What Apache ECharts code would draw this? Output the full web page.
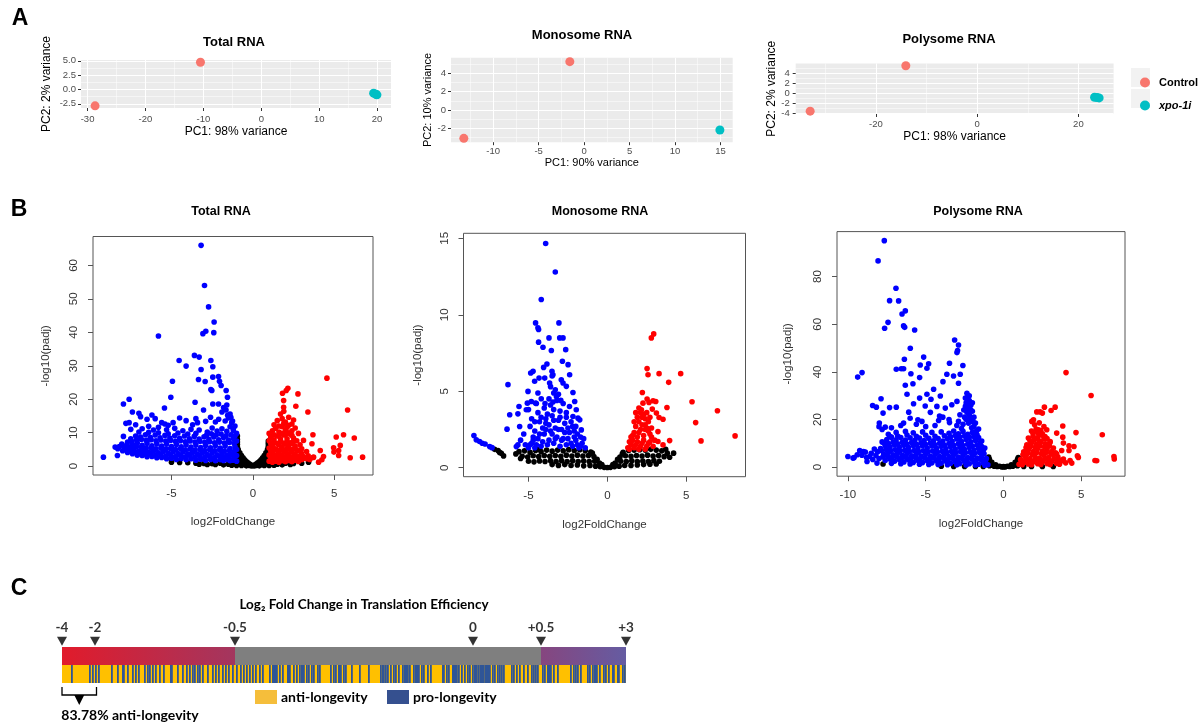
<!DOCTYPE html>
<html>
<head>
<meta charset="utf-8">
<script src="https://cdn.jsdelivr.net/npm/echarts@6/dist/echarts.min.js"></script>
<style>
html,body{margin:0;padding:0;background:#fff;}
#main{width:1198px;height:726px;}
</style>
</head>
<body>
<div id="main"></div>
<script>
var FONT = '"Liberation Sans", Arial, sans-serif';
var FONTC = 'Lato, "Open Sans", sans-serif';

// ---- panel A : PCA ----
var pcaTotalCtrl = [[-10.5, 4.75], [-28.7, -2.85]];
var pcaTotalXpo = [[19.4, -0.64], [19.8, -0.85], [19.97, -0.93]];
var pcaMonoCtrl = [[-1.57, 5.27], [-13.23, -3.09]];
var pcaMonoXpo = [[14.94, -2.18]];
var pcaPolyCtrl = [[-14.1, 5.45], [-33.0, -3.54]];
var pcaPolyXpo = [[23.2, -0.79], [23.7, -0.85], [24.1, -0.92]];

// ---- panel B : volcano ----
var totalNs = [[0,0.1],[-0.1,0.3],[0.1,0.3],[-0.2,0.6],[0.2,0.6],[-0.3,1.0],[0.3,1.0],[-0.4,1.4],[0.4,1.4],[-0.5,1.9],[0.5,1.9],
  [-0.6,2.5],[0.6,2.5],[-0.7,3.2],[0.7,3.2],[-0.8,4.0],[0.8,4.0],[-0.9,5.0],[0.9,5.0],[-0.95,6.5],[0.95,6.0],[-0.95,8.0],[0.95,7.5],[-0.95,9.0],
  [-0.2,0.2],[0.2,0.2],[-0.4,0.4],[0.4,0.4],[-0.6,0.6],[0.6,0.6],[-0.8,0.8],[0.8,0.8],[-0.5,1.2],[0.5,1.2],[-0.7,1.8],[0.7,1.8],
  [-0.85,2.8],[0.85,2.8],[-0.9,3.5],[0.9,3.5],[-0.8,2.2],[0.8,2.2],[-0.6,1.0],[0.6,1.0],
  [-1.2,0.8],[-1.5,0.6],[-2.0,0.9],[-2.5,0.7],[-3.0,0.8],[-3.5,0.9],[-4.0,1.0],[-4.5,1.1],[-5.0,1.2],[-1.3,0.3],[-1.8,0.4],[-2.3,0.5],[-2.8,0.5],[-3.3,0.6],
  [1.2,0.8],[1.5,0.6],[2.0,0.9],[2.5,0.8],[3.0,0.9],[1.3,0.3],[1.8,0.4],[2.3,0.5],[3.42,1.2]];
var totalNsFill = [[-0.1,0.1],[0.1,0.1],[-0.3,0.3],[0.3,0.3],[-0.5,0.5],[0.5,0.5],[-0.7,0.7],[0.7,0.7],[-0.9,0.9],[0.9,0.9],[-0.9,1.6],[0.9,1.6],
  [-0.75,1.3],[0.75,1.3],[-0.95,2.4],[0.95,2.4],[-0.9,4.2],[0.9,4.3],[-0.95,5.7],[0.95,5.5],[-0.95,7.2],[0.95,6.8],[-0.6,1.7],[0.6,1.7],
  [-0.85,3.3],[0.85,3.3],[-0.4,0.9],[0.4,0.9],[-0.4,0.1],[0.4,0.1],[-0.7,0.2],[0.7,0.2],[-1.0,0.2],[1.0,0.2]];
var totalDown = [[-3.18,66.0],[-2.97,54.0],[-2.72,47.6],[-2.38,43.1],[-2.40,39.9],[-2.89,40.3],[-3.07,39.6],[-5.80,38.9],[-3.59,33.1],[-3.30,32.6],
  [-4.53,31.6],[-2.58,31.6],[-4.10,29.9],[-2.46,29.7],[-3.18,28.9],[-2.11,26.8],[-3.34,25.9],[-2.46,26.6],[-2.93,25.3],[-4.94,25.4],[-2.05,25.4],
  [-2.58,22.9],[-2.52,22.6],[-1.95,24.1],[-5.04,20.6],[-7.60,20.0],[-7.95,18.6],[-3.55,19.1],[-2.46,18.6],[-2.11,18.6],[-1.64,22.6],[-1.56,20.6],
  [-5.43,17.4],[-3.03,16.8],[-1.60,18.3],[-3.50,14.2],[-7.95,8.9],[-9.18,2.7],[-8.32,3.2],[-8.46,5.7],
  [-1.0,1.5],[-1.2,1.8],[-1.4,1.6],[-1.6,2.0],[-1.8,1.7],[-2.0,1.9],[-2.3,1.6],[-2.6,2.0],[-2.9,1.7],[-3.2,2.1],[-3.5,1.8],[-3.8,2.2],[-4.1,1.9],[-4.4,2.3],
  [-4.7,2.0],[-5.0,2.4],[-5.3,2.2],[-5.6,2.6],[-5.9,2.5],[-6.2,2.9],[-6.5,2.8],[-6.8,3.2],[-7.1,3.3],[-7.4,3.7],[-7.7,4.1],[-8.0,4.6],[-8.3,5.2],
  [-1.0,3.2],[-1.3,3.6],[-1.6,3.3],[-1.9,3.8],[-2.2,3.4],[-2.5,3.9],[-2.8,3.5],[-3.1,4.0],[-3.4,3.6],[-3.7,4.1],[-4.0,3.7],[-4.3,4.2],[-4.6,3.8],[-4.9,4.3],
  [-5.2,3.9],[-5.5,4.4],[-5.8,4.0],[-6.1,4.5],[-6.4,4.2],[-6.7,4.7],[-7.0,4.5],[-7.3,5.0],[-7.6,5.2],[-7.9,5.6],[-8.2,5.9],
  [-1.0,5.0],[-1.1,5.8],[-1.4,5.3],[-1.7,6.0],[-2.0,5.4],[-2.3,6.1],[-2.6,5.5],[-2.9,6.2],[-3.2,5.6],[-3.5,6.3],[-3.8,5.7],[-4.1,6.4],[-4.4,5.8],[-4.7,6.5],
  [-5.0,5.9],[-5.3,6.6],[-5.6,6.0],[-5.9,6.7],[-6.2,6.1],[-6.5,6.8],[-6.8,6.2],[-7.1,6.9],[-7.4,6.5],[-7.7,7.2],
  [-1.0,7.5],[-1.2,8.3],[-1.5,7.8],[-1.8,8.6],[-2.1,7.9],[-2.4,8.7],[-2.7,8.0],[-3.0,8.8],[-3.3,8.1],[-3.6,8.9],[-3.9,8.2],[-4.2,9.0],[-4.5,8.3],[-4.8,9.1],
  [-5.1,8.4],[-5.4,9.2],[-5.7,8.5],[-6.0,9.3],[-6.3,8.6],[-6.6,9.4],[-6.9,8.7],[-7.2,9.0],[-7.5,8.2],
  [-1.0,9.8],[-1.2,10.6],[-1.4,11.8],[-1.6,10.4],[-1.9,11.2],[-2.2,10.5],[-2.5,11.4],[-2.8,10.2],[-3.3,10.8],[-3.8,11.0],[-4.3,10.6],[-4.8,11.3],[-5.3,10.9],
  [-5.8,11.6],[-6.1,10.8],[-6.4,11.9],[-6.8,11.2],[-7.2,12.4],[-7.5,11.0],
  [-1.3,13.0],[-1.5,14.4],[-1.4,15.6],[-1.7,13.5],[-1.9,16.2],[-2.1,14.0],[-2.3,13.2],[-2.6,14.6],[-2.9,13.4],[-3.4,13.0],[-4.1,13.6],[-4.5,14.4],[-4.9,13.0],
  [-5.4,12.6],[-5.6,13.0],[-6.0,14.2],[-6.2,15.3],[-6.5,14.0],[-6.9,14.8],[-7.0,15.8],[-7.4,16.2],[-7.6,13.0],[-7.8,12.8],[-5.2,12.2],[-3.7,12.4]];
var totalDownFill = [[-1.15,2.6],[-1.45,2.8],[-1.75,2.6],[-2.05,2.9],[-2.35,2.6],[-2.65,2.9],[-2.95,2.7],[-3.25,3.0],[-3.55,2.7],[-3.85,3.1],[-4.15,2.8],
  [-4.45,3.2],[-4.75,2.9],[-5.05,3.3],[-5.35,3.0],[-5.65,3.4],[-5.95,3.3],[-6.25,3.6],[-6.55,3.5],[-6.85,3.9],[-7.15,4.0],[-7.45,4.3],[-7.75,4.8],
  [-1.15,4.4],[-1.45,4.7],[-1.75,4.5],[-2.05,4.8],[-2.35,4.6],[-2.65,4.9],[-2.95,4.7],[-3.25,5.0],[-3.55,4.8],[-3.85,5.1],[-4.15,4.9],[-4.45,5.2],
  [-4.75,5.0],[-5.05,5.3],[-5.35,5.1],[-5.65,5.4],[-5.95,5.2],[-6.25,5.5],[-6.55,5.4],[-6.85,5.7],[-7.15,5.8],[-7.45,6.0],[-7.75,6.3],[-8.05,6.6],
  [-1.15,6.8],[-1.45,7.1],[-1.75,6.9],[-2.05,7.2],[-2.35,7.0],[-2.65,7.3],[-2.95,7.1],[-3.25,7.4],[-3.55,7.2],[-3.85,7.5],[-4.15,7.3],[-4.45,7.6],
  [-4.75,7.4],[-5.05,7.7],[-5.35,7.5],[-5.65,7.8],[-5.95,7.6],[-6.25,7.9],[-6.55,7.7],[-6.85,8.0],[-7.15,7.8],[-7.45,7.4],
  [-1.1,9.0],[-1.35,9.4],[-1.65,9.1],[-1.95,9.6],[-2.25,9.3],[-2.55,9.7],[-2.85,9.2],[-3.5,9.8],[-4.0,9.6],[-4.6,9.9],[-5.2,9.7],[-5.8,10.0],[-6.4,10.1],
  [-7.0,10.2],[-1.1,12.0],[-1.25,13.5],[-1.35,14.6],[-1.55,15.2],[-1.65,16.8],[-1.8,17.5],[-1.2,11.2]];
var totalUp = [[4.55,26.3],[2.15,23.3],[2.05,22.6],[2.77,21.6],[1.82,21.8],[5.82,16.8],[3.38,16.2],[2.64,17.9],[1.89,19.6],[1.89,17.6],[3.69,9.4],[5.12,8.7],
  [5.57,9.4],[6.23,8.4],[5.37,6.2],[4.96,5.5],[5.27,4.7],[4.98,4.2],[5.27,3.2],[5.98,2.5],[6.74,2.7],[4.14,4.7],[4.34,2.9],[4.24,1.9],[4.04,1.2],[3.73,2.7],
  [3.11,7.7],[3.63,6.7],[3.32,2.2],[2.97,3.7],
  [1.0,1.5],[1.2,1.8],[1.4,1.5],[1.6,2.0],[1.8,1.6],[2.0,2.1],[2.2,1.7],[2.4,2.2],[2.6,1.8],[2.8,2.3],[3.0,1.9],[3.2,2.4],[3.5,2.0],[3.7,2.6],
  [1.0,3.3],[1.2,3.8],[1.4,3.2],[1.6,4.0],[1.8,3.4],[2.0,4.2],[2.2,3.5],[2.4,4.4],[2.6,3.6],[2.8,4.6],[3.0,3.8],[3.3,4.4],
  [1.0,5.4],[1.2,6.0],[1.4,5.2],[1.6,6.4],[1.8,5.6],[2.0,6.6],[2.2,5.8],[2.4,6.8],[2.6,6.0],[2.9,6.4],
  [1.0,7.6],[1.1,8.6],[1.3,7.9],[1.5,9.0],[1.7,8.1],[1.9,9.3],[2.1,8.2],[2.3,9.6],[2.5,8.4],[2.7,7.6],
  [1.0,9.8],[1.2,10.6],[1.4,11.3],[1.6,10.2],[1.8,11.8],[2.0,10.8],[2.2,12.2],[2.4,10.6],[2.6,11.4],[2.8,9.8],
  [1.5,13.6],[1.8,14.2],[2.0,13.2],[2.2,14.6],[1.7,15.6],[2.5,13.8],[1.9,16.4]];
var totalUpFill = [[1.1,2.6],[1.3,2.8],[1.5,2.6],[1.7,2.9],[1.9,2.6],[2.1,3.0],[2.3,2.7],[2.5,3.0],[2.7,2.8],[2.9,3.0],[3.1,2.9],[3.4,3.1],
  [1.1,4.5],[1.3,4.8],[1.5,4.6],[1.7,5.0],[1.9,4.7],[2.1,5.1],[2.3,4.8],[2.5,5.2],[2.7,4.9],[3.0,5.2],
  [1.1,6.8],[1.3,7.0],[1.5,6.8],[1.7,7.2],[1.9,6.9],[2.1,7.3],[2.3,7.0],[2.5,7.4],
  [1.1,9.2],[1.3,9.4],[1.6,9.1],[1.8,9.8],[2.0,9.5],[2.2,10.0],[2.4,9.2],
  [1.3,12.4],[1.6,12.0],[1.9,12.8],[2.1,11.6],[2.4,12.6],[1.2,1.2],[1.6,1.2],[2.0,1.3],[2.4,1.3],[2.8,1.4]];

var monoNs = [[-5.6,1.05],[-5.25,1.1],[-4.9,1.0],[-4.55,1.12],[-4.2,1.05],[-3.85,1.15],[-3.5,1.08],[-3.15,1.15],[-2.8,1.1],[-2.45,1.18],[-2.1,1.12],[-1.75,1.18],
  [-1.4,1.1],[-1.05,1.02],[1.0,1.0],[1.35,1.12],[1.7,1.15],[2.05,1.18],[2.4,1.15],[2.75,1.2],[3.1,1.15],[3.45,1.1],[3.8,0.95],
  [-5.4,0.75],[-5.05,0.7],[-4.7,0.78],[-4.35,0.72],[-4.0,0.8],[-3.65,0.74],[-3.3,0.8],[-2.95,0.75],[-2.6,0.82],[-2.25,0.76],[-1.9,0.82],[-1.55,0.76],
  [-1.2,0.8],[-0.85,0.72],[0.8,0.7],[1.15,0.78],[1.5,0.74],[1.85,0.8],[2.2,0.76],[2.55,0.82],[2.9,0.76],[3.25,0.8],[3.6,0.72],[3.95,0.68],
  [-5.0,0.42],[-4.65,0.38],[-4.3,0.44],[-3.95,0.4],[-3.6,0.45],[-3.25,0.4],[-2.9,0.46],[-2.55,0.4],[-2.2,0.45],[-1.85,0.4],[-1.5,0.44],[-1.15,0.4],
  [-0.8,0.42],[-0.5,0.3],[0.5,0.3],[0.85,0.42],[1.2,0.4],[1.55,0.45],[1.9,0.4],[2.25,0.44],[2.6,0.4],[2.95,0.46],[3.3,0.42],
  [-3.5,0.2],[-3.1,0.15],[-2.7,0.2],[-2.3,0.14],[-1.9,0.18],[-1.5,0.12],[-1.1,0.15],[-0.75,0.1],[-0.45,0.06],[-0.2,0.02],[0,0.01],[0.2,0.02],[0.45,0.06],
  [0.75,0.1],[1.1,0.14],[1.5,0.15],[1.9,0.18],[2.3,0.2],[2.7,0.22],[3.1,0.24],
  [-0.65,0.55],[0.65,0.55],[-0.35,0.2],[0.35,0.2],[-0.95,0.95],[0.95,0.9],
  [-7.15,1.2],[-6.93,1.12],[-6.83,1.0],[-6.72,0.94],[-6.58,0.77],[-5.8,0.9],[-5.5,0.6],[-4.4,1.2],[4.2,0.95],[3.7,1.2]];
var monoDown = [[-3.91,14.66],[-3.30,12.80],[-4.19,11.0],[-4.55,9.47],[-4.40,9.15],[-4.36,9.04],[-3.07,9.47],[-3.70,8.49],[-3.02,8.49],[-2.81,8.49],
  [-4.36,8.21],[-4.08,7.88],[-3.55,7.66],[-2.64,7.72],[-2.85,6.96],[-2.49,6.74],[-3.83,6.78],[-4.04,6.56],[-4.86,6.19],[-4.71,6.30],[-3.51,6.30],
  [-3.45,6.08],[-2.39,6.08],[-6.30,5.43],[-5.03,4.99],[-4.33,5.86],[-4.61,5.65],[-3.97,5.86],[-3.66,5.54],[-2.92,5.75],[-2.81,5.54],[-2.18,4.92],
  [-3.40,4.88],[-4.40,4.88],[-5.60,4.00],[-6.19,3.46],[-6.36,2.52],[-5.67,3.52],[-5.56,2.69],[-5.77,1.38],[-5.14,3.79],[-5.07,4.22],[-4.82,4.33],
  [-4.55,4.22],[-4.19,4.51],[-3.23,4.66],[-2.60,5.32],[-2.07,4.33],[-1.97,3.79],[-1.86,3.24],[-1.75,3.13],[-1.65,2.47],[-2.18,3.35],[-5.67,1.49],
  [-8.46,2.10],[-8.31,1.82],[-8.10,1.71],[-7.93,1.60],[-7.75,1.55],[-7.46,1.38],[-7.31,1.31],
  [-5.0,1.3],[-4.8,1.6],[-4.6,1.3],[-4.4,1.9],[-4.2,1.4],[-4.0,2.2],[-3.8,1.5],[-3.6,2.4],[-3.4,1.6],[-3.2,2.0],[-3.0,1.4],[-2.8,1.9],[-2.6,1.5],
  [-2.4,2.3],[-2.2,1.4],[-2.0,1.8],[-1.8,1.3],[-1.6,1.6],[-1.4,1.3],
  [-4.9,2.7],[-4.6,2.4],[-4.3,3.0],[-4.1,2.6],[-3.9,3.2],[-3.7,2.8],[-3.5,3.4],[-3.3,2.6],[-3.1,3.1],[-2.9,2.5],[-2.7,2.9],[-2.5,2.6],[-2.3,3.0],
  [-2.1,2.4],[-1.9,2.2],
  [-4.4,3.6],[-4.0,3.9],[-3.8,3.5],[-3.6,4.1],[-3.4,3.8],[-3.2,4.4],[-3.0,3.7],[-2.8,4.2],[-2.6,3.6],[-2.4,4.0],[-3.7,4.5],[-3.3,5.1],[-3.1,4.8],
  [-3.5,6.0],[-3.6,5.3],[-5.3,2.2],[-5.5,1.8],[-5.2,1.5],[-4.7,2.0],[-1.5,1.9],[-1.7,2.0],[-2.0,2.7],[-4.5,4.2],[-4.8,3.2],[-5.0,3.8]];
var monoDownFill = [[-4.9,1.5],[-4.7,1.8],[-4.5,1.5],[-4.3,2.2],[-4.1,1.7],[-3.9,2.5],[-3.7,1.8],[-3.5,2.2],[-3.3,1.9],[-3.1,2.5],[-2.9,1.8],[-2.7,2.3],
  [-2.5,1.9],[-2.3,1.6],[-2.1,2.0],[-1.9,1.5],[-1.7,1.4],[-4.2,3.3],[-3.9,2.9],[-3.4,3.1],[-3.0,3.3],[-2.6,3.3],[-2.2,2.7],[-4.6,3.0],[-3.95,4.2],
  [-3.45,4.3],[-2.95,4.4]];
var monoUp = [[2.94,8.75],[2.79,8.49],[2.52,6.48],[2.58,6.08],[3.28,6.15],[4.65,6.15],[3.89,5.58],[5.37,4.31],[6.98,3.72],[5.60,2.95],[5.94,1.75],
  [8.10,2.08],[3.78,3.94],[3.95,1.77],[3.53,1.49],[3.21,1.71],[3.21,2.36],[3.53,3.17],[3.28,3.28],[3.11,3.57],[2.90,4.38],[3.07,4.33],[2.64,4.27],
  [2.52,4.49],[2.22,4.92],[2.26,4.22],[2.16,3.79],[2.85,3.83],
  [1.3,1.3],[1.5,1.5],[1.7,1.3],[1.9,1.7],[2.1,1.4],[2.3,1.8],[2.5,1.4],[2.7,1.7],[2.9,1.4],[1.5,2.0],[1.7,2.3],[1.9,2.0],[2.1,2.5],[2.3,2.1],
  [2.5,2.6],[2.7,2.2],[1.8,2.7],[2.0,3.0],[2.2,2.8],[2.4,3.2],[1.9,3.3],[2.1,3.6],[1.7,3.0],[2.6,3.0],[2.3,3.5],[2.8,2.6],[1.6,1.8],[2.0,1.2],[2.4,1.2]];
var monoUpFill = [[1.4,1.7],[1.6,2.1],[1.8,1.5],[2.0,2.3],[2.2,1.6],[2.4,2.5],[2.6,1.6],[2.8,2.0],[1.8,3.6],[2.0,3.9],[2.2,3.3],[2.4,2.8],[2.6,2.4],
  [1.4,1.2],[3.0,1.8],[2.5,3.6],[2.7,3.3]];

var polyNs = [[0,0.2],[-0.25,0.4],[0.25,0.4],[-0.5,1.0],[0.5,1.0],[-0.75,2.0],[0.75,2.0],[-0.9,3.2],[0.9,3.2],[-0.6,0.4],[0.6,0.4],[-0.85,1.0],[0.85,1.0],
  [-0.95,4.2],[0.95,4.0],[-7.74,1.3],[-1.3,0.3],[-1.8,0.3],[-2.5,0.3],[-3.2,0.3],[-4.0,0.4],[1.3,0.3],[1.8,0.3],[2.5,0.3],[3.2,0.3],
  [-0.4,0.3],[0.4,0.3],[-0.7,0.8],[0.7,0.8],[-0.8,1.5],[0.8,1.5],[-0.9,2.4],[0.9,2.4],[-0.95,3.6],[0.95,3.4],[-0.1,0.1],[0.1,0.1],[-0.9,0.6],[0.9,0.6]];
var polyDown = [[-7.66,95.1],[-8.06,86.6],[-6.91,75.1],[-7.32,69.9],[-6.74,69.8],[-6.31,65.6],[-6.52,64.3],[-7.42,60.8],[-7.64,58.3],[-6.42,59.3],
  [-6.35,58.7],[-5.71,57.6],[-3.14,53.4],[-2.89,51.3],[-2.95,49.0],[-2.99,48.1],[-5.99,49.9],[-5.13,46.2],[-6.37,45.3],[-3.47,43.6],[-4.81,43.4],
  [-5.35,42.9],[-4.92,41.5],[-2.61,42.7],[-9.37,37.8],[-9.09,39.7],[-6.89,41.1],[-6.57,41.3],[-6.42,41.3],[-5.95,39.2],[-3.64,39.0],[-3.21,38.3],
  [-5.39,37.6],[-2.78,39.0],[-3.89,35.9],[-2.89,35.2],[-5.82,35.0],[-6.31,34.4],[-4.49,32.7],[-6.20,30.6],[-4.92,30.6],[-4.06,29.9],[-5.39,29.0],
  [-7.87,28.7],[-4.66,28.5],[-2.99,27.6],[-5.78,26.6],[-8.41,25.9],[-8.17,25.2],[-5.03,25.7],[-4.28,25.5],[-3.74,24.8],[-3.32,26.2],[-6.89,25.2],
  [-7.32,25.0],[-7.74,22.7],[-6.09,23.1],[-4.11,21.5],[-5.50,19.9],[-5.24,19.2],[-6.42,18.5],[-7.98,18.5],[-4.17,19.6],[-3.47,18.7],[-2.89,19.2],
  [-1.0,1.0],[-1.3,1.8],[-1.6,1.2],[-1.9,2.2],[-2.2,1.4],[-2.5,2.4],[-2.8,1.5],[-3.1,2.3],[-3.4,1.6],[-3.7,2.5],[-4.0,1.7],[-4.3,2.6],[-4.6,1.8],
  [-4.9,2.7],[-5.2,1.9],[-5.5,2.8],[-5.8,2.0],[-6.1,3.0],[-6.4,2.2],[-6.7,3.2],[-7.0,2.5],[-7.3,3.4],[-7.6,2.8],[-8.0,3.6],[-8.4,3.2],[-8.8,4.0],
  [-1.1,3.6],[-1.4,4.4],[-1.7,3.8],[-2.0,4.8],[-2.3,4.0],[-2.6,5.0],[-2.9,4.2],[-3.2,5.2],[-3.5,4.4],[-3.8,5.3],[-4.1,4.5],[-4.4,5.4],[-4.7,4.6],
  [-5.0,5.5],[-5.3,4.7],[-5.6,5.6],[-5.9,4.8],[-6.2,5.7],[-6.5,5.0],[-6.8,5.9],[-7.1,5.2],[-7.4,6.1],[-7.7,5.5],[-8.1,6.4],[-8.5,5.8],[-9.0,6.6],[-9.4,5.2],
  [-1.3,7.0],[-1.6,7.8],[-1.9,7.2],[-2.2,8.2],[-2.5,7.4],[-2.8,8.4],[-3.1,7.6],[-3.4,8.6],[-3.7,7.8],[-4.0,8.8],[-4.3,7.9],[-4.6,8.9],[-4.9,8.0],
  [-5.2,9.0],[-5.5,8.1],[-5.8,9.1],[-6.1,8.2],[-6.4,9.2],[-6.7,8.3],[-7.0,9.3],[-7.3,8.4],[-7.6,9.0],[-7.9,7.8],
  [-1.5,10.4],[-1.8,11.2],[-2.1,10.6],[-2.4,11.6],[-2.7,10.8],[-3.0,11.8],[-3.3,10.9],[-3.6,11.9],[-3.9,11.0],[-4.2,12.0],[-4.5,11.1],[-4.8,12.1],
  [-5.1,11.2],[-5.4,12.2],[-5.7,11.3],[-6.0,12.3],[-6.3,11.4],[-6.6,12.4],[-6.9,11.5],[-7.2,12.6],[-7.5,11.6],[-7.8,10.6],
  [-1.7,13.6],[-2.0,14.6],[-2.3,13.8],[-2.6,15.0],[-2.9,14.0],[-3.2,15.2],[-3.5,14.2],[-4.0,14.8],[-4.6,14.6],[-5.2,14.8],[-5.8,14.4],[-6.3,15.0],
  [-6.9,14.6],[-7.4,13.8],[-7.8,15.8],[-8.0,17.0],[-7.6,16.8],
  [-1.9,17.0],[-2.1,19.5],[-2.2,22.0],[-2.3,24.5],[-2.4,27.0],[-2.3,29.5],[-2.1,26.0],[-2.0,23.5],[-1.9,21.0],[-1.8,18.5],[-1.6,16.0],[-2.5,21.0],
  [-2.6,18.0],[-2.8,22.0],[-3.0,17.5],[-2.45,29.0],[-2.2,28.0],[-2.0,27.0],[-1.4,11.0],[-1.2,8.0],
  [-10.0,4.5],[-9.67,3.8],[-9.24,7.0],[-8.88,6.3],[-8.77,2.4],[-8.13,1.7],[-9.6,4.0],
  [-3.5,20.0],[-4.4,17.5],[-5.0,17.0],[-5.6,18.0],[-6.6,17.5],[-7.2,16.5],[-3.9,21.0],[-6.0,20.5],[-4.7,23.0]];
var polyDownFill = [[-1.15,2.8],[-1.45,3.2],[-1.75,3.0],[-2.05,3.4],[-2.35,3.1],[-2.65,3.5],[-2.95,3.2],[-3.25,3.6],[-3.55,3.3],[-3.85,3.7],[-4.15,3.4],
  [-4.45,3.8],[-4.75,3.5],[-5.05,3.9],[-5.35,3.6],[-5.65,4.0],[-5.95,3.7],[-6.25,4.2],[-6.55,3.9],[-6.85,4.4],[-7.15,4.1],[-7.45,4.6],[-7.75,4.3],
  [-8.2,4.9],[-8.6,4.5],[-9.1,5.0],
  [-1.25,5.6],[-1.55,6.1],[-1.85,5.8],[-2.15,6.3],[-2.45,6.0],[-2.75,6.5],[-3.05,6.1],[-3.35,6.6],[-3.65,6.2],[-3.95,6.7],[-4.25,6.3],[-4.55,6.8],
  [-4.85,6.4],[-5.15,6.9],[-5.45,6.5],[-5.75,7.0],[-6.05,6.6],[-6.35,7.1],[-6.65,6.8],[-6.95,7.3],[-7.25,7.0],[-7.55,7.4],[-7.85,7.0],[-8.3,7.6],
  [-1.4,8.7],[-1.7,9.3],[-2.0,8.9],[-2.3,9.6],[-2.6,9.1],[-2.9,9.8],[-3.2,9.2],[-3.5,9.9],[-3.8,9.3],[-4.1,10.0],[-4.4,9.4],[-4.7,10.1],[-5.0,9.5],
  [-5.3,10.2],[-5.6,9.6],[-5.9,10.3],[-6.2,9.7],[-6.5,10.4],[-6.8,9.8],[-7.1,10.5],[-7.4,9.9],[-7.7,10.2],
  [-1.6,12.4],[-1.9,12.9],[-2.2,12.5],[-2.5,13.1],[-2.8,12.6],[-3.1,13.3],[-3.4,12.7],[-3.8,13.2],[-4.4,13.0],[-5.0,13.4],[-5.6,13.0],[-6.2,13.5],
  [-6.8,13.1],[-7.3,12.8],
  [-1.75,15.0],[-2.05,16.5],[-2.25,18.5],[-2.15,21.0],[-2.35,23.0],[-2.45,25.5],[-2.25,25.8],[-2.1,24.0],[-1.95,19.0],[-2.4,20.0],[-2.7,16.2],
  [-2.55,24.0],[-2.35,31.0],[-2.2,30.0],
  [-1.2,0.8],[-1.8,0.9],[-2.4,0.9],[-3.0,1.0],[-3.6,1.0],[-4.2,1.1],[-4.8,1.1],[-5.4,1.2],[-6.0,1.3],[-6.6,1.4],[-7.2,1.6]];
var polyUp = [[4.02,39.7],[5.63,30.1],[3.32,25.2],[2.63,25.2],[3.06,23.8],[2.14,23.2],[2.35,23.2],[2.50,22.7],[1.93,19.9],[1.82,19.2],[3.81,17.3],
  [4.66,14.5],[6.35,13.6],[3.42,14.3],[3.81,12.6],[3.85,10.1],[4.21,9.0],[4.53,8.7],[4.21,7.0],[3.74,7.0],[4.75,4.8],[4.81,4.1],[4.28,2.8],[4.39,1.7],
  [5.88,2.8],[5.99,2.7],[7.10,4.5],[7.12,3.4],[3.42,5.5],[3.21,8.0],[2.99,10.3],[2.67,12.9],[2.78,15.7],[2.42,13.6],[2.25,15.7],
  [1.0,1.2],[1.3,2.0],[1.6,1.3],[1.9,2.2],[2.2,1.4],[2.5,2.3],[2.8,1.5],[3.1,2.4],[3.4,1.6],[3.7,2.5],[4.0,1.8],
  [1.1,3.2],[1.4,4.4],[1.7,3.6],[2.0,4.8],[2.3,3.8],[2.6,5.0],[2.9,4.0],[3.2,5.2],[3.5,4.2],
  [1.3,6.4],[1.6,7.4],[1.9,6.6],[2.2,7.8],[2.5,6.8],[2.8,7.6],[3.1,6.6],
  [1.5,9.4],[1.8,10.4],[2.1,9.6],[2.4,10.6],[2.7,9.8],[3.0,10.8],
  [1.6,12.2],[1.9,13.0],[2.2,12.4],[2.5,13.4],[2.8,12.0],
  [1.8,15.2],[2.1,16.0],[2.4,15.4],[2.0,17.8],[2.3,18.6],[2.6,17.0]];
var polyUpFill = [[1.15,2.6],[1.45,3.1],[1.75,2.7],[2.05,3.2],[2.35,2.8],[2.65,3.4],[2.95,2.9],[3.25,3.5],[3.55,3.0],[3.85,3.4],
  [1.25,5.2],[1.55,5.8],[1.85,5.4],[2.15,6.1],[2.45,5.6],[2.75,6.2],[3.05,5.7],[3.35,6.0],
  [1.45,8.2],[1.75,8.8],[2.05,8.3],[2.35,9.0],[2.65,8.5],[2.95,8.9],
  [1.7,11.2],[2.0,11.6],[2.3,11.0],[2.6,11.8],[1.9,14.2],[2.2,14.6],[2.5,14.0],[1.2,1.0],[1.8,1.0],[2.4,1.1],[3.0,1.1],[3.6,1.2]];

// ---- panel C : ranked strip ----
var tickLabels = ['-4', '-2', '-0.5', '0', '+0.5', '+3'];
var tickRanks = [0, 33, 173, 411, 479, 564];
var segColors = [['#E11B2B', '#A3365F'], ['#7F7F7F', '#7F7F7F'], ['#86467F', '#655CA2']];
var proRanks = [9,27,30,33,36,49,55,60,61,65,70,73,76,82,85,87,90,93,97,101,108,109,115,120,124,127,130,132,135,137,140,145,150,153,156,160,
  163,166,170,174,178,181,184,187,190,193,197,200,207,210,211,212,213,214,217,220,225,226,227,231,234,237,239,240,241,244,246,249,251,255,257,
  268,271,273,276,277,278,281,283,289,297,306,318,320,321,323,325,328,331,333,336,340,342,343,344,345,347,351,353,354,355,356,359,361,365,368,
  380,381,384,386,390,391,392,393,394,396,399,402,405,407,410,412,413,414,416,418,419,420,421,423,424,425,426,427,430,432,435,437,439,441,
  449,451,454,457,461,465,469,471,473,475,480,482,485,486,487,488,491,495,508,511,513,515,518,525,527,530,532,533,534,537,541,543,546,550,
  551,555,556,560,562];

var grids = [], xAxes = [], yAxes = [], series = [];

function addPca(box, xr, yr, xMaj, xMinr, yMaj, yMinr, xName, yName, lay, yFmt, ctrl, xpo)
{
	var g = grids.length;
	grids.push({left:box[0], top:box[1], width:box[2], height:box[3], show:true, backgroundColor:'#EBEBEB', borderWidth:0, outerBoundsMode:'none'});
	var xi = xAxes.length, yi = yAxes.length;
	xAxes.push({gridIndex:g, type:'value', min:xr[0], max:xr[1], position:'bottom',
		axisLine:{show:false, onZero:false}, axisTick:{show:true, length:3, lineStyle:{color:'#333'}, customValues:xMaj},
		axisLabel:{customValues:xMaj, color:'#4D4D4D', fontSize:9.5, margin:lay.xm, fontFamily:FONT},
		splitLine:{show:true, lineStyle:{color:'#fff', width:1.1}},
		name:xName, nameLocation:'middle', nameGap:lay.xg, nameTextStyle:{fontSize:lay.fs, color:'#000', fontFamily:FONT}});
	xAxes.push({gridIndex:g, type:'value', min:xr[0], max:xr[1], position:'top',
		axisLine:{show:false, onZero:false}, axisTick:{show:false, customValues:xMinr}, axisLabel:{show:false},
		splitLine:{show:true, lineStyle:{color:'#fff', width:0.5}}});
	yAxes.push({gridIndex:g, type:'value', min:yr[0], max:yr[1], position:'left',
		axisLine:{show:false, onZero:false}, axisTick:{show:true, length:3, lineStyle:{color:'#333'}, customValues:yMaj},
		axisLabel:{customValues:yMaj, color:'#4D4D4D', fontSize:9.5, margin:lay.ym, fontFamily:FONT, formatter:yFmt},
		splitLine:{show:true, lineStyle:{color:'#fff', width:1.1}},
		name:yName, nameLocation:'middle', nameGap:lay.yg, nameTextStyle:{fontSize:lay.fs, color:'#000', fontFamily:FONT}});
	yAxes.push({gridIndex:g, type:'value', min:yr[0], max:yr[1], position:'right',
		axisLine:{show:false, onZero:false}, axisTick:{show:false, customValues:yMinr}, axisLabel:{show:false},
		splitLine:{show:true, lineStyle:{color:'#fff', width:0.5}}});
	series.push({type:'scatter', name:'Control', xAxisIndex:xi, yAxisIndex:yi, data:ctrl, symbolSize:9, itemStyle:{color:'#F8766D', opacity:1}});
	series.push({type:'scatter', name:'xpo-1i', xAxisIndex:xi, yAxisIndex:yi, data:xpo, symbolSize:9, itemStyle:{color:'#00BFC4', opacity:1}});
}

function addVolcano(box, xr, yr, xT, yT, lay, ns, down, up)
{
	var g = grids.length;
	grids.push({left:box[0], top:box[1], width:box[2], height:box[3], show:true, backgroundColor:'rgba(0,0,0,0)', borderColor:'#555', borderWidth:1, outerBoundsMode:'none'});
	var xi = xAxes.length, yi = yAxes.length;
	xAxes.push({gridIndex:g, type:'value', min:xr[0], max:xr[1], position:'bottom',
		axisLine:{show:false, onZero:false}, axisTick:{show:true, length:5, lineStyle:{color:'#555'}, customValues:xT},
		axisLabel:{customValues:xT, color:'#333', fontSize:11.5, margin:lay.xm, fontFamily:FONT},
		splitLine:{show:false},
		name:'log2FoldChange', nameLocation:'middle', nameGap:lay.xg, nameTextStyle:{fontSize:11.5, color:'#333', fontFamily:FONT}});
	yAxes.push({gridIndex:g, type:'value', min:yr[0], max:yr[1], position:'left',
		axisLine:{show:false, onZero:false}, axisTick:{show:true, length:5, lineStyle:{color:'#555'}, customValues:yT},
		axisLabel:{customValues:yT, color:'#333', fontSize:11.5, margin:lay.ym, rotate:90, fontFamily:FONT},
		splitLine:{show:false},
		name:'-log10(padj)', nameLocation:'middle', nameGap:lay.yg, nameTextStyle:{fontSize:11.5, color:'#333', fontFamily:FONT}});
	var common = {type:'scatter', xAxisIndex:xi, yAxisIndex:yi, symbolSize:5.6, silent:true};
	series.push(Object.assign({name:'ns', data:ns, itemStyle:{color:'#000', opacity:1}}, common));
	series.push(Object.assign({name:'down', data:down, itemStyle:{color:'#0000FF', opacity:1}}, common));
	series.push(Object.assign({name:'up', data:up, itemStyle:{color:'#FF0000', opacity:1}}, common));
}

function fmt1(v){ return v.toFixed(1); }

addPca([81, 60, 310, 48], [-31.13, 22.4], [-3.23, 5.15], [-30,-20,-10,0,10,20], [-25,-15,-5,5,15],
	[-2.5,0,2.5,5], [-1.25,1.25,3.75], 'PC1: 98% variance', 'PC2: 2% variance', {xm:6, xg:18, ym:5, yg:28, fs:12}, fmt1, pcaTotalCtrl, pcaTotalXpo);
addPca([451, 57.8, 281.7, 84.4], [-14.64, 16.35], [-3.51, 5.69], [-10,-5,0,5,10,15], [-12.5,-7.5,-2.5,2.5,7.5,12.5],
	[-2,0,2,4], [-3,-1,1,3,5], 'PC1: 90% variance', 'PC2: 10% variance', {xm:4, xg:14, ym:5, yg:16, fs:11}, null, pcaMonoCtrl, pcaMonoXpo);
addPca([795.7, 63.5, 317.9, 50.5], [-35.86, 26.96], [-4.1, 5.9], [-20,0,20], [-30,-10,10],
	[-4,-2,0,2,4], [-3,-1,1,3,5], 'PC1: 98% variance', 'PC2: 2% variance', {xm:5, xg:17, ym:6, yg:17, fs:12}, null, pcaPolyCtrl, pcaPolyXpo);

addVolcano([93, 236.5, 280, 238.5], [-9.82, 7.38], [-2.64, 68.64], [-5,0,5], [0,10,20,30,40,50,60], {xm:13, xg:41, ym:13, yg:41},
	totalNs.concat(totalNsFill), totalDown.concat(totalDownFill), totalUp.concat(totalUpFill));
addVolcano([463.5, 233.3, 282, 243.4], [-9.12, 8.76], [-0.59, 15.33], [-5,0,5], [0,5,10,15], {xm:13, xg:42, ym:13, yg:40},
	monoNs, monoDown.concat(monoDownFill), monoUp.concat(monoUpFill));
addVolcano([837, 231.6, 288, 244.6], [-10.70, 7.81], [-3.8, 98.9], [-10,-5,0,5], [0,20,40,60,80], {xm:13, xg:42, ym:13, yg:43},
	polyNs, polyDown.concat(polyDownFill), polyUp.concat(polyUpFill));

// panel C grid
var gC = grids.length;
grids.push({left:62, top:647, width:564, height:36, show:false, outerBoundsMode:'none'});
var xC = xAxes.length, yC = yAxes.length;
xAxes.push({gridIndex:gC, type:'value', min:tickRanks[0], max:tickRanks[tickRanks.length - 1], show:false});
yAxes.push({gridIndex:gC, type:'value', min:0, max:2, show:false});

var segData = [[tickRanks[0], tickRanks[2], 0], [tickRanks[2], tickRanks[4], 1], [tickRanks[4], tickRanks[5], 2]];
series.push({type:'custom', xAxisIndex:xC, yAxisIndex:yC, data:segData, silent:true, clip:false,
	renderItem:function(params, api){
		var a = api.coord([api.value(0), 2]);
		var b = api.coord([api.value(1), 1]);
		var k = api.value(2);
		return {type:'rect', shape:{x:a[0], y:a[1], width:b[0] - a[0], height:b[1] - a[1]},
			style:{fill:new echarts.graphic.LinearGradient(0, 0, 1, 0, [{offset:0, color:segColors[k][0]}, {offset:1, color:segColors[k][1]}])}};
	}});
series.push({type:'custom', xAxisIndex:xC, yAxisIndex:yC, data:[[tickRanks[0], tickRanks[5]]], silent:true, clip:false,
	renderItem:function(params, api){
		var a = api.coord([api.value(0), 1]);
		var b = api.coord([api.value(1), 0]);
		return {type:'rect', shape:{x:a[0], y:a[1], width:b[0] - a[0], height:b[1] - a[1]}, style:{fill:'#FFC000'}};
	}});
series.push({type:'custom', xAxisIndex:xC, yAxisIndex:yC, data:proRanks.map(function(r){ return [r, 0]; }), silent:true, clip:false,
	renderItem:function(params, api){
		var a = api.coord([api.value(0), 1]);
		var b = api.coord([api.value(0) + 1.8, 0]);
		return {type:'rect', shape:{x:a[0], y:a[1], width:b[0] - a[0], height:b[1] - a[1]}, style:{fill:'#2F5597'}};
	}});
series.push({type:'scatter', xAxisIndex:xC, yAxisIndex:yC, silent:true, clip:false,
	data:tickRanks.map(function(r, i){ return {value:[r, 2.32], label:{formatter:tickLabels[i]}}; }),
	symbol:'triangle', symbolRotate:180, symbolSize:[10, 9], itemStyle:{color:'#000'},
	label:{show:true, position:'top', distance:2, color:'#000', fontSize:13.5, fontWeight:'bold', fontFamily:FONTC}});
// bracket under the first two ticks
series.push({type:'custom', xAxisIndex:xC, yAxisIndex:yC, data:[[tickRanks[0], tickRanks[1]]], silent:true, clip:false,
	renderItem:function(params, api){
		var a = api.coord([api.value(0), 0]);
		var b = api.coord([api.value(1) + 1.5, 0]);
		var y = a[1], m = (a[0] + b[0]) / 2;
		return {type:'group', children:[
			{type:'polyline', shape:{points:[[a[0], y + 4], [a[0], y + 12], [b[0], y + 12], [b[0], y + 4]]}, style:{stroke:'#000', lineWidth:1.3, fill:null}},
			{type:'polygon', shape:{points:[[m - 5, y + 12], [m + 5, y + 12], [m, y + 22]]}, style:{fill:'#000'}}
		]};
	}});

function txt(x, y, s, font, align, extra)
{
	var o = {type:'text', x:x, y:y, silent:true, style:{text:s, font:font, fill:'#000', align:align || 'center', verticalAlign:'middle'}};
	if(extra) for(var k in extra) o.style[k] = extra[k];
	return o;
}

var graphics = [
	txt(20, 19, 'A', 'bold 23px ' + FONT),
	txt(19, 210, 'B', 'bold 23px ' + FONT),
	txt(19, 589, 'C', 'bold 23px ' + FONT),
	txt(234, 42, 'Total RNA', 'bold 13px ' + FONT),
	txt(582, 35, 'Monosome RNA', 'bold 13px ' + FONT),
	txt(949, 39.5, 'Polysome RNA', 'bold 13px ' + FONT),
	txt(221, 212, 'Total RNA', 'bold 12.5px ' + FONT),
	txt(600, 212, 'Monosome RNA', 'bold 12.5px ' + FONT),
	txt(978, 212, 'Polysome RNA', 'bold 12.5px ' + FONT),
	{type:'rect', shape:{x:1131, y:68, width:19, height:19}, style:{fill:'#F2F2F2'}, z:0, silent:true},
	{type:'rect', shape:{x:1131, y:89, width:19, height:19}, style:{fill:'#F2F2F2'}, z:0, silent:true},
	txt(364, 605, 'Log₂ Fold Change in Translation Efficiency', 'bold 13.5px ' + FONTC),
	{type:'rect', shape:{x:255, y:690, width:22, height:14}, style:{fill:'#F5BE3B'}, silent:true},
	txt(281, 697, 'anti-longevity', 'bold 14px ' + FONTC, 'left'),
	{type:'rect', shape:{x:387, y:690, width:22, height:14}, style:{fill:'#35508F'}, silent:true},
	txt(413, 697, 'pro-longevity', 'bold 14px ' + FONTC, 'left'),
	txt(130, 715, '83.78% anti-longevity', 'bold 14px ' + FONTC)
];

var chart = echarts.init(document.getElementById('main'), null, {renderer:'canvas'});
chart.setOption({
	animation:false,
	backgroundColor:'#fff',
	grid:grids,
	xAxis:xAxes,
	yAxis:yAxes,
	legend:{data:['Control', 'xpo-1i'], orient:'vertical', left:1135, top:72, itemWidth:10, itemHeight:10, itemGap:12, icon:'circle',
		textStyle:{fontSize:11, fontWeight:'bold', fontFamily:FONT, color:'#000', padding:[0, 0, 0, 4],
			rich:{it:{fontSize:11, fontWeight:'bold', fontStyle:'italic', fontFamily:FONT, color:'#000'}}},
		formatter:function(n){ return n === 'xpo-1i' ? '{it|' + n + '}' : n; },
		selectedMode:false},
	graphic:graphics,
	series:series
});
</script>
</body>
</html>
